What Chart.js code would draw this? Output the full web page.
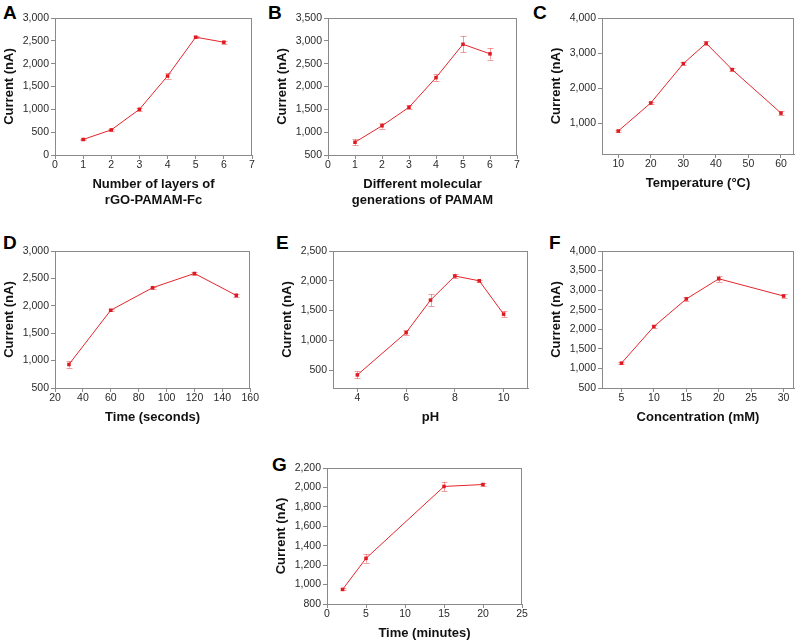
<!DOCTYPE html>
<html>
<head>
<meta charset="utf-8">
<script src="https://cdn.jsdelivr.net/npm/chart.js@4.4.1/dist/chart.umd.min.js"></script>
<style>
  body { margin: 0; background: #fff; width: 798px; height: 641px; position: relative; overflow: hidden; }
  canvas { position: absolute; }
  .letra { position: absolute; font: bold 19px Arial, "Liberation Sans", sans-serif; color: #000; line-height: 1; }
</style>
</head>
<body>
<div class="letra" style="left:3px;top:3px">A</div>
<div class="letra" style="left:268px;top:3px">B</div>
<div class="letra" style="left:533px;top:3px">C</div>
<div class="letra" style="left:3px;top:233px">D</div>
<div class="letra" style="left:276px;top:233px">E</div>
<div class="letra" style="left:549px;top:233px">F</div>
<div class="letra" style="left:272px;top:455px">G</div>

<canvas id="panelA"></canvas>
<canvas id="panelB"></canvas>
<canvas id="panelC"></canvas>
<canvas id="panelD"></canvas>
<canvas id="panelE"></canvas>
<canvas id="panelF"></canvas>
<canvas id="panelG"></canvas>

<script>
// Datos de cada panel
const capasA = [1, 2, 3, 4, 5, 6];
const corrienteA = [340, 550, 1000, 1730, 2580, 2470];
const errorA = [20, 20, 40, 60, 20, 30];
const xTicksA = [0, 1, 2, 3, 4, 5, 6, 7];
const yTicksA = [0, 500, 1000, 1500, 2000, 2500, 3000];

const generacionesB = [1, 2, 3, 4, 5, 6];
const corrienteB = [780, 1140, 1545, 2195, 2925, 2715];
const errorB = [70, 60, 45, 70, 180, 125];
const xTicksB = [0, 1, 2, 3, 4, 5, 6, 7];
const yTicksB = [500, 1000, 1500, 2000, 2500, 3000, 3500];

const temperaturaC = [10, 20, 30, 37, 45, 60];
const corrienteC = [780, 1580, 2700, 3280, 2530, 1290];
const errorC = [20, 30, 40, 60, 40, 60];
const xTicksC = [10, 20, 30, 40, 50, 60];
const yTicksC = [1000, 2000, 3000, 4000];

const tiempoD = [30, 60, 90, 120, 150];
const corrienteD = [930, 1920, 2330, 2590, 2190];
const errorD = [60, 20, 20, 20, 30];
const xTicksD = [20, 40, 60, 80, 100, 120, 140, 160];
const yTicksD = [500, 1000, 1500, 2000, 2500, 3000];

const phE = [4, 6, 7, 8, 9, 10];
const corrienteE = [420, 1130, 1675, 2080, 2000, 1440];
const errorE = [60, 40, 100, 40, 20, 50];
const xTicksE = [4, 6, 8, 10];
const yTicksE = [500, 1000, 1500, 2000, 2500];

const concentracionF = [5, 10, 15, 20, 30];
const corrienteF = [1135, 2070, 2775, 3290, 2850];
const errorF = [30, 30, 40, 80, 40];
const xTicksF = [5, 10, 15, 20, 25, 30];
const yTicksF = [500, 1000, 1500, 2000, 2500, 3000, 3500, 4000];

const minutosG = [2, 5, 15, 20];
const corrienteG = [950, 1270, 2010, 2030];
const errorG = [10, 45, 50, 15];
const xTicksG = [0, 5, 10, 15, 20, 25];
const yTicksG = [800, 1000, 1200, 1400, 1600, 1800, 2000, 2200];

const FUENTE = 'Arial, "Liberation Sans", sans-serif';
const ROJO = "#e3262b";
const GRIS = "#8a8a8a";
const ANCHO_Y = 55;
const ALTO_X = 55;

// Marco completo del área del gráfico
const marcoPlugin = {
    id: "marco",
    afterDraw(chart) {
        const { ctx, chartArea: a } = chart;
        ctx.save();
        ctx.strokeStyle = GRIS;
        ctx.lineWidth = 1;
        ctx.strokeRect(Math.round(a.left) + 0.5, Math.round(a.top) + 0.5,
            Math.round(a.right - a.left) - 1, Math.round(a.bottom - a.top));
        ctx.restore();
    },
};

// Barras de error dibujadas con las escalas del gráfico
const erroresPlugin = {
    id: "errores",
    beforeDatasetsDraw(chart) {
        const { ctx, scales } = chart;
        chart.data.datasets.forEach((ds) => {
            if (!ds.errores) return;
            ctx.save();
            ctx.strokeStyle = "rgba(232, 80, 80, 0.55)";
            ctx.lineWidth = 1;
            ds.data.forEach((p, i) => {
                const e = ds.errores[i];
                const x = Math.round(scales.x.getPixelForValue(p.x)) + 0.5;
                const y1 = scales.y.getPixelForValue(p.y - e);
                const y2 = scales.y.getPixelForValue(p.y + e);
                ctx.beginPath();
                ctx.moveTo(x, y1); ctx.lineTo(x, y2);
                ctx.moveTo(x - 3, Math.round(y1) + 0.5); ctx.lineTo(x + 3, Math.round(y1) + 0.5);
                ctx.moveTo(x - 3, Math.round(y2) + 0.5); ctx.lineTo(x + 3, Math.round(y2) + 0.5);
                ctx.stroke();
            });
            ctx.restore();
        });
    },
};

function crearPanel(id, area, xs, ys, errs, xMin, xMax, xTicks, yMin, yMax, yTicks, tituloX) {
    const canvas = document.getElementById(id);
    const ancho = area.right - area.left + ANCHO_Y + 8;
    const alto = area.bottom - area.top + 10 + ALTO_X;
    canvas.width = ancho;
    canvas.height = alto;
    canvas.style.left = (area.left - ANCHO_Y) + "px";
    canvas.style.top = (area.top - 10) + "px";
    const dosLineas = Array.isArray(tituloX);

    new Chart(canvas.getContext("2d"), {
        type: "line",
        data: {
            datasets: [{
                data: xs.map((x, i) => ({ x: x, y: ys[i] })),
                errores: errs,
                borderColor: ROJO,
                borderWidth: 1,
                backgroundColor: "#dd1a22",
                pointStyle: "rect",
                pointRadius: 2.5,
                pointBorderWidth: 0,
                tension: 0,
            }],
        },
        options: {
            responsive: false,
            animation: false,
            devicePixelRatio: 1,
            layout: { padding: { top: 10, right: 8, left: 0, bottom: 0 } },
            plugins: { legend: { display: false }, tooltip: { enabled: false } },
            scales: {
                x: {
                    type: "linear",
                    min: xMin,
                    max: xMax,
                    afterBuildTicks: (s) => { s.ticks = xTicks.map((v) => ({ value: v })); },
                    afterFit: (s) => { s.height = ALTO_X; },
                    grid: { drawOnChartArea: false, drawTicks: true, tickLength: 4, color: GRIS },
                    border: { display: true, color: GRIS },
                    ticks: { color: "#2a2a2a", padding: 0, maxRotation: 0, font: { family: FUENTE, size: 10.5 } },
                    title: {
                        display: true,
                        text: tituloX,
                        color: "#111",
                        padding: { top: 0, bottom: dosLineas ? 2 : 18 },
                        font: { family: FUENTE, size: 13, weight: "bold", lineHeight: 1.2 },
                    },
                },
                y: {
                    min: yMin,
                    max: yMax,
                    afterBuildTicks: (s) => { s.ticks = yTicks.map((v) => ({ value: v })); },
                    afterFit: (s) => { s.width = ANCHO_Y; },
                    grid: { drawOnChartArea: false, drawTicks: true, tickLength: 4, color: GRIS },
                    border: { display: true, color: GRIS },
                    ticks: {
                        color: "#2a2a2a",
                        padding: 2,
                        font: { family: FUENTE, size: 10.5 },
                        callback: (v) => v.toLocaleString("en-US"),
                    },
                    title: {
                        display: true,
                        text: "Current (nA)",
                        color: "#111",
                        padding: { top: 2, bottom: 0 },
                        font: { family: FUENTE, size: 13, weight: "bold" },
                    },
                },
            },
        },
        plugins: [erroresPlugin, marcoPlugin],
    });
}

crearPanel("panelA", { left: 55, top: 18, right: 252, bottom: 155 }, capasA, corrienteA, errorA,
    0, 7, xTicksA, 0, 3000, yTicksA, ["Number of layers of", "rGO-PAMAM-Fc"]);
crearPanel("panelB", { left: 328, top: 18, right: 517, bottom: 155 }, generacionesB, corrienteB, errorB,
    0, 7, xTicksB, 500, 3500, yTicksB, ["Different molecular", "generations of PAMAM"]);
crearPanel("panelC", { left: 602, top: 18, right: 794, bottom: 154 }, temperaturaC, corrienteC, errorC,
    5, 64, xTicksC, 125, 4000, yTicksC, "Temperature (°C)");
crearPanel("panelD", { left: 55, top: 251, right: 251, bottom: 388 }, tiempoD, corrienteD, errorD,
    20, 160, xTicksD, 500, 3000, yTicksD, "Time (seconds)");
crearPanel("panelE", { left: 333, top: 251, right: 528, bottom: 388 }, phE, corrienteE, errorE,
    3, 11, xTicksE, 200, 2500, yTicksE, "pH");
crearPanel("panelF", { left: 602, top: 251, right: 794, bottom: 388 }, concentracionF, corrienteF, errorF,
    2, 31.6, xTicksF, 500, 4000, yTicksF, "Concentration (mM)");
crearPanel("panelG", { left: 327, top: 468, right: 522, bottom: 604 }, minutosG, corrienteG, errorG,
    0, 25, xTicksG, 800, 2200, yTicksG, "Time (minutes)");
</script>
</body>
</html>
